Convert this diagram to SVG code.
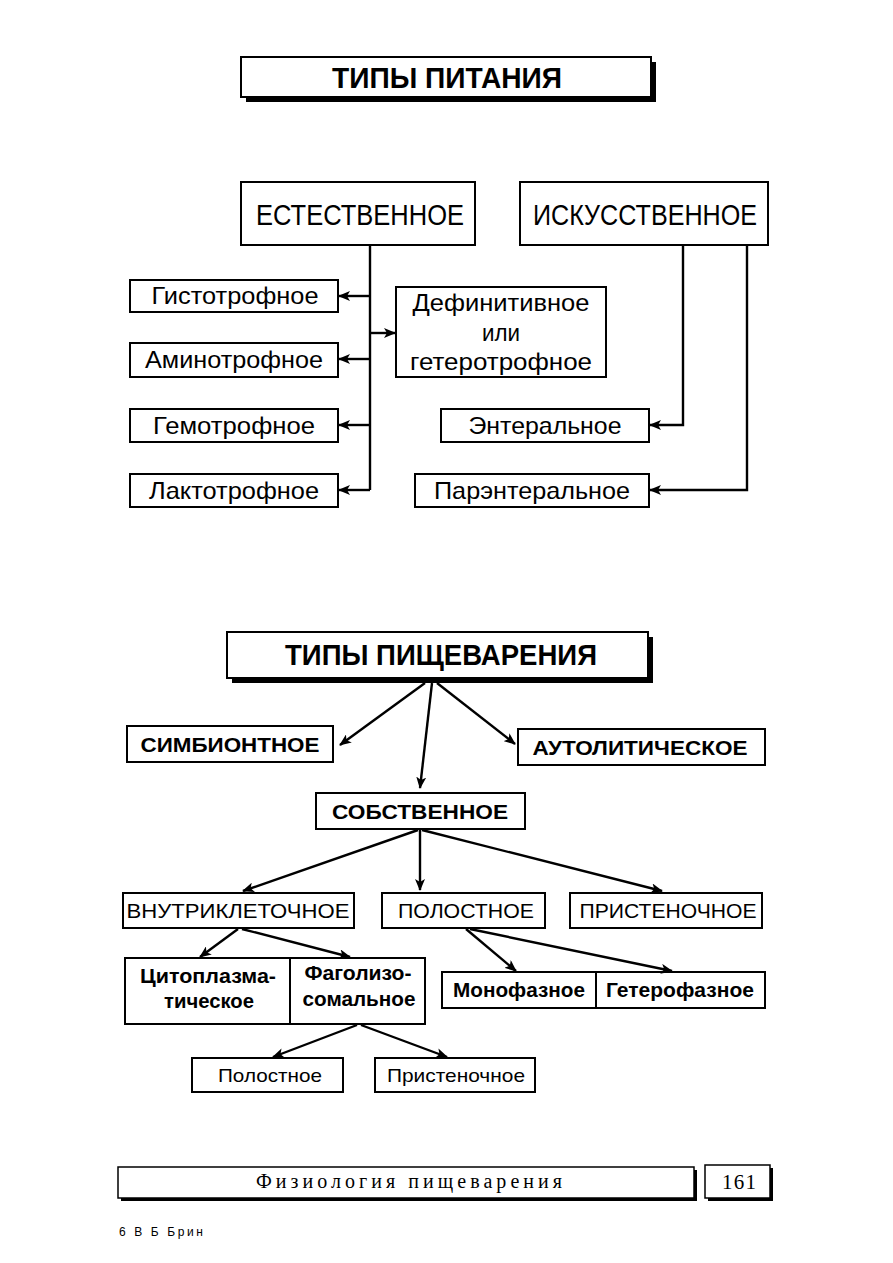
<svg xmlns="http://www.w3.org/2000/svg" width="893" height="1263" viewBox="0 0 893 1263">
<style>
.bx{fill:#fff;stroke:#000;stroke-width:2}
.sh{fill:#000}
.t{font-family:"Liberation Sans",Arial,sans-serif;fill:#000;text-anchor:middle}
.b{font-weight:bold}
.s{font-family:"Liberation Serif","Times New Roman",serif;fill:#000;text-anchor:middle}
.ln{fill:none;stroke:#000;stroke-width:2.4}
.la{fill:none;stroke:#000;stroke-width:2.4;marker-end:url(#ah)}
</style>
<defs>
<marker id="ah" viewBox="0 0 12 10" refX="11" refY="5" markerWidth="12" markerHeight="10" markerUnits="userSpaceOnUse" orient="auto">
<path d="M0,0 L12,5 L0,10 L3,5 z" fill="#000"/>
</marker>
</defs>
<rect width="893" height="1263" fill="#fff"/>

<g id="title1">
<rect class="sh" x="246" y="62" width="410" height="40"/>
<rect class="bx" x="241" y="57" width="410" height="40"/>
<text class="t b" x="447" y="88" font-size="29" textLength="230" lengthAdjust="spacingAndGlyphs">ТИПЫ ПИТАНИЯ</text>
</g>
<g id="natural">
<rect class="bx" x="241" y="182" width="234" height="63"/>
<text class="t" x="360" y="225" font-size="29" textLength="208" lengthAdjust="spacingAndGlyphs">ЕСТЕСТВЕННОЕ</text>
</g>
<g id="artificial">
<rect class="bx" x="520" y="182" width="248" height="63"/>
<text class="t" x="645" y="225" font-size="29" textLength="224" lengthAdjust="spacingAndGlyphs">ИСКУССТВЕННОЕ</text>
</g>
<g id="histo">
<rect class="bx" x="130" y="280" width="208" height="32"/>
<text class="t" x="235" y="304" font-size="24" textLength="167" lengthAdjust="spacingAndGlyphs">Гистотрофное</text>
</g>
<g id="amino">
<rect class="bx" x="130" y="343" width="208" height="34"/>
<text class="t" x="234" y="368" font-size="24" textLength="178" lengthAdjust="spacingAndGlyphs">Аминотрофное</text>
</g>
<g id="hemo">
<rect class="bx" x="130" y="409" width="208" height="33"/>
<text class="t" x="234" y="434" font-size="24" textLength="162" lengthAdjust="spacingAndGlyphs">Гемотрофное</text>
</g>
<g id="lacto">
<rect class="bx" x="130" y="474" width="208" height="33"/>
<text class="t" x="234" y="499" font-size="24" textLength="170" lengthAdjust="spacingAndGlyphs">Лактотрофное</text>
</g>
<g id="definitive">
<rect class="bx" x="396" y="287" width="210" height="90"/>
<text class="t" x="501" y="311" font-size="24" textLength="177" lengthAdjust="spacingAndGlyphs">Дефинитивное</text>
<text class="t" x="501" y="341" font-size="24" textLength="38" lengthAdjust="spacingAndGlyphs">или</text>
<text class="t" x="501" y="370" font-size="24" textLength="182" lengthAdjust="spacingAndGlyphs">гетеротрофное</text>
</g>
<g id="enteral">
<rect class="bx" x="441" y="409" width="208" height="33"/>
<text class="t" x="545" y="434" font-size="24" textLength="153" lengthAdjust="spacingAndGlyphs">Энтеральное</text>
</g>
<g id="parenteral">
<rect class="bx" x="415" y="474" width="234" height="33"/>
<text class="t" x="532" y="499" font-size="24" textLength="196" lengthAdjust="spacingAndGlyphs">Парэнтеральное</text>
</g>

<g id="title2">
<rect class="sh" x="232" y="637" width="421" height="46"/>
<rect class="bx" x="227" y="632" width="421" height="46"/>
<text class="t b" x="441" y="665" font-size="29" textLength="312" lengthAdjust="spacingAndGlyphs">ТИПЫ ПИЩЕВАРЕНИЯ</text>
</g>
<g id="symbiont">
<rect class="bx" x="127" y="726" width="206" height="36"/>
<text class="t b" x="230" y="752" font-size="21" textLength="179" lengthAdjust="spacingAndGlyphs">СИМБИОНТНОЕ</text>
</g>
<g id="autolytic">
<rect class="bx" x="518" y="729" width="247" height="36"/>
<text class="t b" x="640" y="755" font-size="21" textLength="215" lengthAdjust="spacingAndGlyphs">АУТОЛИТИЧЕСКОЕ</text>
</g>
<g id="own">
<rect class="bx" x="316" y="793" width="209" height="36"/>
<text class="t b" x="420" y="819" font-size="21" textLength="176" lengthAdjust="spacingAndGlyphs">СОБСТВЕННОЕ</text>
</g>
<g id="intracell">
<rect class="bx" x="123" y="893" width="231" height="35"/>
<text class="t" x="238" y="918" font-size="21" textLength="223" lengthAdjust="spacingAndGlyphs">ВНУТРИКЛЕТОЧНОЕ</text>
</g>
<g id="cavity">
<rect class="bx" x="382" y="893" width="163" height="35"/>
<text class="t" x="466" y="918" font-size="21" textLength="136" lengthAdjust="spacingAndGlyphs">ПОЛОСТНОЕ</text>
</g>
<g id="parietal">
<rect class="bx" x="570" y="893" width="192" height="35"/>
<text class="t" x="668" y="918" font-size="21" textLength="177" lengthAdjust="spacingAndGlyphs">ПРИСТЕНОЧНОЕ</text>
</g>
<g id="cyto">
<rect class="bx" x="125" y="958" width="165" height="66"/>
<text class="t b" x="208" y="983" font-size="20" textLength="136" lengthAdjust="spacingAndGlyphs">Цитоплазма-</text>
<text class="t b" x="209" y="1008" font-size="20" textLength="90" lengthAdjust="spacingAndGlyphs">тическое</text>
</g>
<g id="phago">
<rect class="bx" x="290" y="958" width="135" height="66"/>
<text class="t b" x="358" y="980" font-size="20" textLength="107" lengthAdjust="spacingAndGlyphs">Фаголизо-</text>
<text class="t b" x="359" y="1006" font-size="20" textLength="113" lengthAdjust="spacingAndGlyphs">сомальное</text>
</g>
<g id="mono">
<rect class="bx" x="442" y="972" width="154" height="36"/>
<text class="t b" x="519" y="997" font-size="20" textLength="132" lengthAdjust="spacingAndGlyphs">Монофазное</text>
</g>
<g id="hetero">
<rect class="bx" x="596" y="972" width="169" height="36"/>
<text class="t b" x="680" y="997" font-size="20" textLength="148" lengthAdjust="spacingAndGlyphs">Гетерофазное</text>
</g>
<g id="cavity2">
<rect class="bx" x="192" y="1058" width="151" height="34"/>
<text class="t" x="270" y="1082" font-size="19" textLength="104" lengthAdjust="spacingAndGlyphs">Полостное</text>
</g>
<g id="parietal2">
<rect class="bx" x="375" y="1058" width="160" height="34"/>
<text class="t" x="456" y="1082" font-size="19" textLength="138" lengthAdjust="spacingAndGlyphs">Пристеночное</text>
</g>

<g id="footer">
<rect class="sh" x="121" y="1170" width="576" height="31"/>
<rect x="118" y="1167" width="576" height="31" fill="#fff" stroke="#000" stroke-width="1.5"/>
<text class="s" x="409" y="1188" font-size="20" textLength="306" lengthAdjust="spacing">Физиология пищеварения</text>
</g>
<g id="pagenum">
<rect class="sh" x="708" y="1168" width="65" height="33"/>
<rect x="705" y="1165" width="65" height="33" fill="#fff" stroke="#000" stroke-width="1.5"/>
<text class="s" x="739" y="1189" font-size="21" textLength="34" lengthAdjust="spacing">161</text>
</g>
<g id="author">
<text x="119" y="1236" font-family="'Liberation Sans',Arial,sans-serif" font-size="12" textLength="84" lengthAdjust="spacing">6 В Б Брин</text>
</g>

<g id="connectors">
<path class="ln" d="M370,245 V490"/>
<path class="la" d="M370,296 H339"/>
<path class="la" d="M370,359 H339"/>
<path class="la" d="M370,425 H339"/>
<path class="la" d="M370,490 H339"/>
<path class="la" d="M370,333 H395"/>
<path class="la" d="M683,245 V425 H650"/>
<path class="la" d="M747,245 V490 H650"/>

<path class="la" d="M425,683 L340,745"/>
<path class="la" d="M432,683 L420,788"/>
<path class="la" d="M437,683 L515,744"/>

<path class="la" d="M418,830 L243,891"/>
<path class="la" d="M420,830 V890"/>
<path class="la" d="M422,830 L662,891"/>

<path class="la" d="M238,929 L200,957"/>
<path class="la" d="M242,929 L350,957"/>

<path class="la" d="M466,929 L516,971"/>
<path class="la" d="M470,929 L672,971"/>

<path class="la" d="M357,1025 L273,1057"/>
<path class="la" d="M361,1025 L447,1057"/>
</g>
</svg>
